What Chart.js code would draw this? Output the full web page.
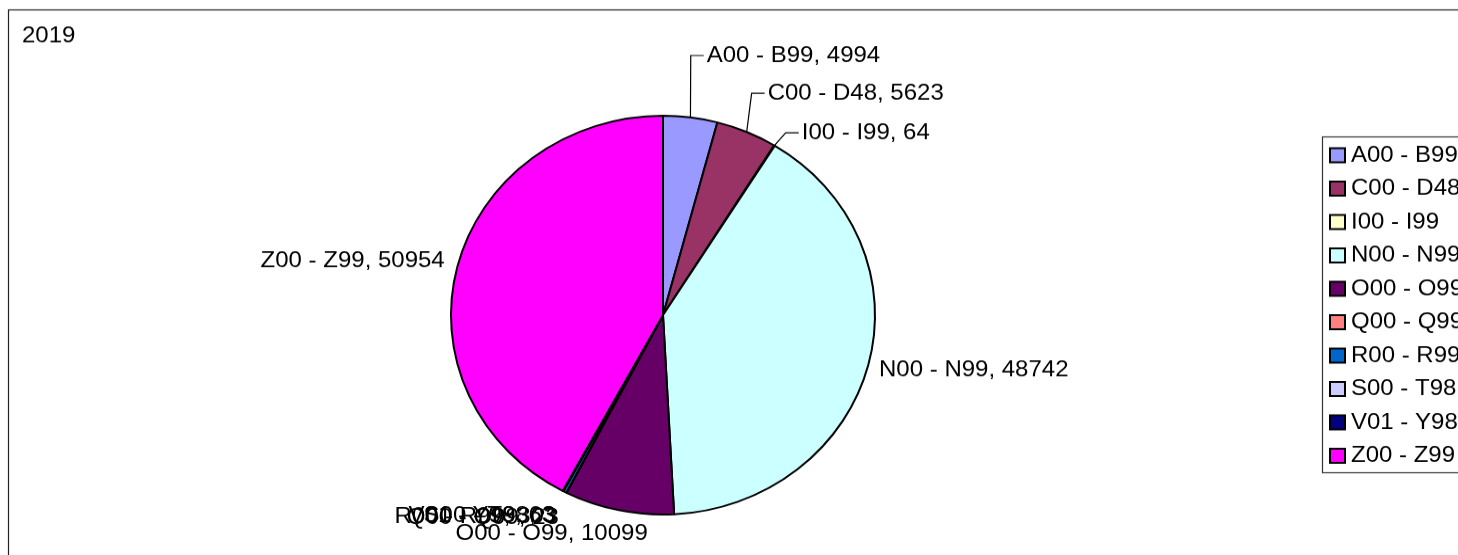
<!DOCTYPE html>
<html>
<head>
<meta charset="utf-8">
<script src="https://cdn.jsdelivr.net/npm/chart.js@4"></script>
<style>
  html, body { margin: 0; padding: 0; background: #fff; overflow: hidden; }
  /* the reference is squashed a little vertically, so draw taller and squeeze it */
  #chart { display: block; width: 1458px !important; height: 555px !important; }
</style>
</head>
<body>
<canvas id="chart" width="1458" height="590"></canvas>
<script>
var title = "2019";
var categories = ["A00 - B99", "C00 - D48", "I00 - I99", "N00 - N99", "O00 - O99", "Q00 - Q99", "R00 - R99", "S00 - T98", "V01 - Y98", "Z00 - Z99"];
var values = [4994, 5623, 64, 48742, 10099, 23, 303, 3, 63, 50954];
var colors = ["#9999FF", "#993366", "#FFFFCC", "#CCFFFF", "#660066", "#FF8080", "#0066CC", "#CCCCFF", "#000080", "#FF00FF"];

var FONT = "24px 'Liberation Sans', Arial, sans-serif";

// Excel shuffled some labels around, the top three got leader lines
var nudge = [[15, -43], [17, -20], [22, 6], [1, 0], [31, 3], [-3, 6], [-3, 6], [-3, 6], [-3, 6], [-3, 0]];
var leader = [true, true, true, false, false, false, false, false, false, false];

var excelLook = {
  id: 'excelLook',
  beforeDraw: function (chart) {
    var ctx = chart.ctx;
    ctx.save();
    ctx.fillStyle = '#fff';
    ctx.fillRect(0, 0, chart.width, chart.height);
    // outer frame (runs off the right and bottom)
    ctx.strokeStyle = '#222';
    ctx.lineWidth = 1.2;
    ctx.strokeRect(8.5, 10.5, 1600, 700);
    ctx.fillStyle = '#000';
    ctx.font = FONT;
    ctx.textBaseline = 'middle';
    ctx.textAlign = 'left';
    ctx.fillText(title, 22, 38);
    ctx.restore();
  },
  afterDraw: function (chart) {
    var ctx = chart.ctx;
    var meta = chart.getDatasetMeta(0);
    ctx.save();
    ctx.font = FONT;
    ctx.textBaseline = 'middle';
    ctx.textAlign = 'left';
    ctx.fillStyle = '#000';
    ctx.strokeStyle = '#000';
    ctx.lineWidth = 1.2;

    meta.data.forEach(function (arc, i) {
      var p = arc.getProps(['x', 'y', 'startAngle', 'endAngle', 'outerRadius'], true);
      var mid = (p.startAngle + p.endAngle) / 2;
      var c = Math.cos(mid), s = Math.sin(mid);
      var r = p.outerRadius + 10;
      var px = p.x + r * c, py = p.y + r * s;
      var text = chart.data.labels[i] + ", " + chart.data.datasets[0].data[i];
      var w = ctx.measureText(text).width;
      var left = c >= 0 ? px : px - w;
      var yc = py + 13 * s;
      left += nudge[i][0];
      yc += nudge[i][1];
      if (leader[i]) {
        var ex = p.x + p.outerRadius * c, ey = p.y + p.outerRadius * s;
        ctx.beginPath();
        ctx.moveTo(ex, ey);
        ctx.lineTo(left - 16, yc);
        ctx.lineTo(left - 3, yc);
        ctx.stroke();
      }
      ctx.fillText(text, left, yc);
    });

    // legend box, clipped by the right edge like the original
    ctx.strokeStyle = '#333';
    ctx.lineWidth = 1.2;
    ctx.strokeRect(1322.5, 145.5, 200, 357);
    var rowY = 165, rowH = 35.5;
    chart.data.labels.forEach(function (lab, i) {
      var y = rowY + i * rowH;
      ctx.fillStyle = chart.data.datasets[0].backgroundColor[i];
      ctx.fillRect(1330, y - 7.5, 15, 15);
      ctx.strokeStyle = '#000';
      ctx.lineWidth = 2;
      ctx.strokeRect(1330, y - 7.5, 15, 15);
      ctx.fillStyle = '#000';
      ctx.fillText(lab, 1351, y);
    });
    ctx.restore();
  }
};

var ctx = document.getElementById('chart').getContext('2d');
var myChart = new Chart(ctx, {
  type: 'pie',
  data: {
    labels: categories,
    datasets: [{
      data: values,
      backgroundColor: colors,
      borderColor: '#000',
      borderWidth: 2
    }]
  },
  options: {
    responsive: false,
    devicePixelRatio: 1,
    animation: false,
    layout: { padding: { top: 122, bottom: 42, left: 300, right: 432 } },
    plugins: {
      legend: { display: false },
      tooltip: { enabled: false }
    }
  },
  plugins: [excelLook]
});
</script>
</body>
</html>
